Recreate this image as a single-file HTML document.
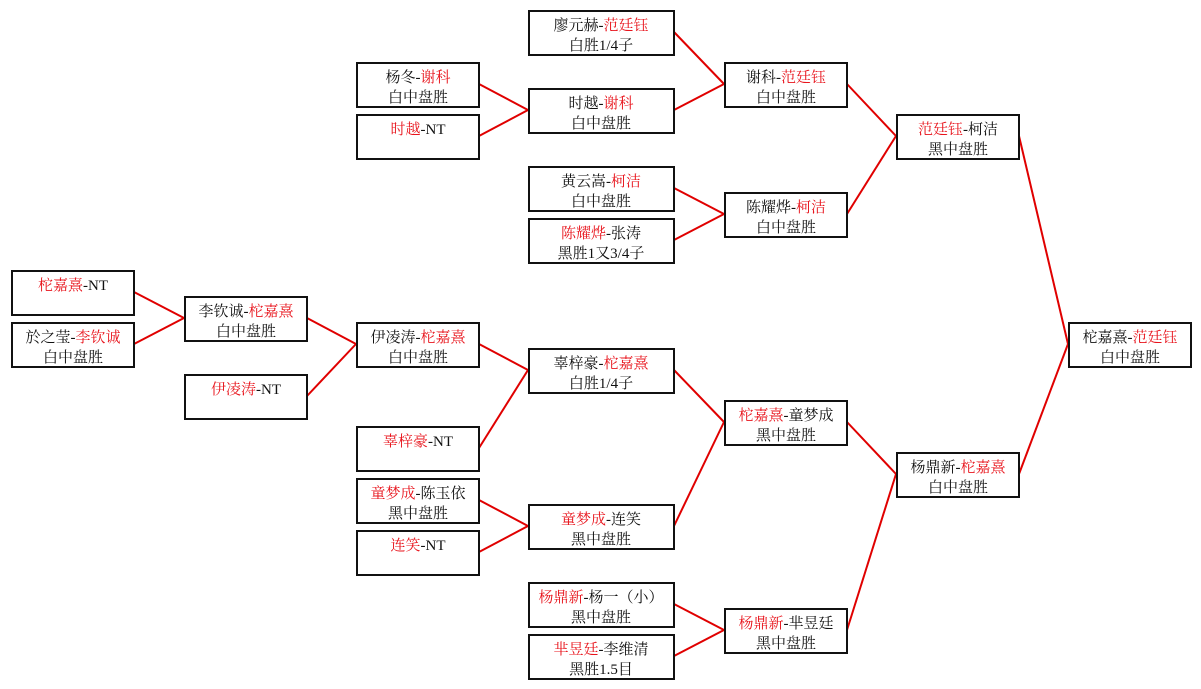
<!DOCTYPE html>
<html><head><meta charset="utf-8"><style>
html,body{margin:0;padding:0;background:#fff;width:1201px;height:689px;overflow:hidden}
svg text{font-family:"Liberation Serif","Noto Serif CJK SC","Noto Sans CJK SC",serif;font-size:15px;fill:#111;text-anchor:middle}
.r{fill:#e8141c}
</style></head><body>
<svg width="1201" height="689" xmlns="http://www.w3.org/2000/svg">
<g stroke="#e00000" stroke-width="2" fill="none">
<!-- col0 -> col1 -->
<line x1="134" y1="292" x2="184" y2="318"/>
<line x1="134" y1="344" x2="184" y2="318"/>
<!-- col1 -> col2 -->
<line x1="307" y1="318" x2="356" y2="344"/>
<line x1="307" y1="396" x2="356" y2="344"/>
<!-- col2 -> col3 -->
<line x1="479" y1="84" x2="528" y2="110"/>
<line x1="479" y1="136" x2="528" y2="110"/>
<line x1="479" y1="344" x2="528" y2="370"/>
<line x1="479" y1="448" x2="528" y2="370"/>
<line x1="479" y1="500" x2="528" y2="526"/>
<line x1="479" y1="552" x2="528" y2="526"/>
<!-- col3 -> col4 -->
<line x1="674" y1="32" x2="724" y2="84"/>
<line x1="674" y1="110" x2="724" y2="84"/>
<line x1="674" y1="188" x2="724" y2="214"/>
<line x1="674" y1="240" x2="724" y2="214"/>
<line x1="674" y1="370" x2="724" y2="422"/>
<line x1="674" y1="526" x2="724" y2="422"/>
<line x1="674" y1="604" x2="724" y2="630"/>
<line x1="674" y1="656" x2="724" y2="630"/>
<!-- col4 -> col5 -->
<line x1="847" y1="84" x2="896" y2="136"/>
<line x1="847" y1="214" x2="896" y2="136"/>
<line x1="847" y1="422" x2="896" y2="474"/>
<line x1="847" y1="630" x2="896" y2="474"/>
<!-- col5 -> col6 -->
<line x1="1019" y1="136" x2="1068" y2="344"/>
<line x1="1019" y1="474" x2="1068" y2="344"/>
</g>
<g fill="#fff" stroke="#111" stroke-width="2">
<rect x="12" y="271" width="122" height="44"/>
<rect x="12" y="323" width="122" height="44"/>
<rect x="185" y="297" width="122" height="44"/>
<rect x="185" y="375" width="122" height="44"/>
<rect x="357" y="63" width="122" height="44"/>
<rect x="357" y="115" width="122" height="44"/>
<rect x="357" y="323" width="122" height="44"/>
<rect x="357" y="427" width="122" height="44"/>
<rect x="357" y="479" width="122" height="44"/>
<rect x="357" y="531" width="122" height="44"/>
<rect x="529" y="11" width="145" height="44"/>
<rect x="529" y="89" width="145" height="44"/>
<rect x="529" y="167" width="145" height="44"/>
<rect x="529" y="219" width="145" height="44"/>
<rect x="529" y="349" width="145" height="44"/>
<rect x="529" y="505" width="145" height="44"/>
<rect x="529" y="583" width="145" height="44"/>
<rect x="529" y="635" width="145" height="44"/>
<rect x="725" y="63" width="122" height="44"/>
<rect x="725" y="193" width="122" height="44"/>
<rect x="725" y="401" width="122" height="44"/>
<rect x="725" y="609" width="122" height="44"/>
<rect x="897" y="115" width="122" height="44"/>
<rect x="897" y="453" width="122" height="44"/>
<rect x="1069" y="323" width="122" height="44"/>
</g>
<g>
<text x="73" y="290"><tspan class="r">柁嘉熹</tspan>-NT</text>
<text x="73" y="342">於之莹-<tspan class="r">李钦诚</tspan></text><text x="73" y="362">白中盘胜</text>
<text x="246" y="316">李钦诚-<tspan class="r">柁嘉熹</tspan></text><text x="246" y="336">白中盘胜</text>
<text x="246" y="394"><tspan class="r">伊凌涛</tspan>-NT</text>
<text x="418" y="82">杨冬-<tspan class="r">谢科</tspan></text><text x="418" y="102">白中盘胜</text>
<text x="418" y="134"><tspan class="r">时越</tspan>-NT</text>
<text x="418" y="342">伊凌涛-<tspan class="r">柁嘉熹</tspan></text><text x="418" y="362">白中盘胜</text>
<text x="418" y="446"><tspan class="r">辜梓豪</tspan>-NT</text>
<text x="418" y="498"><tspan class="r">童梦成</tspan>-陈玉依</text><text x="418" y="518">黑中盘胜</text>
<text x="418" y="550"><tspan class="r">连笑</tspan>-NT</text>
<text x="601" y="30">廖元赫-<tspan class="r">范廷钰</tspan></text><text x="601" y="50">白胜1/4子</text>
<text x="601" y="108">时越-<tspan class="r">谢科</tspan></text><text x="601" y="128">白中盘胜</text>
<text x="601" y="186">黄云嵩-<tspan class="r">柯洁</tspan></text><text x="601" y="206">白中盘胜</text>
<text x="601" y="238"><tspan class="r">陈耀烨</tspan>-张涛</text><text x="601" y="258">黑胜1又3/4子</text>
<text x="601" y="368">辜梓豪-<tspan class="r">柁嘉熹</tspan></text><text x="601" y="388">白胜1/4子</text>
<text x="601" y="524"><tspan class="r">童梦成</tspan>-连笑</text><text x="601" y="544">黑中盘胜</text>
<text x="601" y="602"><tspan class="r">杨鼎新</tspan>-杨一（小）</text><text x="601" y="622">黑中盘胜</text>
<text x="601" y="654"><tspan class="r">芈昱廷</tspan>-李维清</text><text x="601" y="674">黑胜1.5目</text>
<text x="786" y="82">谢科-<tspan class="r">范廷钰</tspan></text><text x="786" y="102">白中盘胜</text>
<text x="786" y="212">陈耀烨-<tspan class="r">柯洁</tspan></text><text x="786" y="232">白中盘胜</text>
<text x="786" y="420"><tspan class="r">柁嘉熹</tspan>-童梦成</text><text x="786" y="440">黑中盘胜</text>
<text x="786" y="628"><tspan class="r">杨鼎新</tspan>-芈昱廷</text><text x="786" y="648">黑中盘胜</text>
<text x="958" y="134"><tspan class="r">范廷钰</tspan>-柯洁</text><text x="958" y="154">黑中盘胜</text>
<text x="958" y="472">杨鼎新-<tspan class="r">柁嘉熹</tspan></text><text x="958" y="492">白中盘胜</text>
<text x="1130" y="342">柁嘉熹-<tspan class="r">范廷钰</tspan></text><text x="1130" y="362">白中盘胜</text>
</g>
</svg>
</body></html>
